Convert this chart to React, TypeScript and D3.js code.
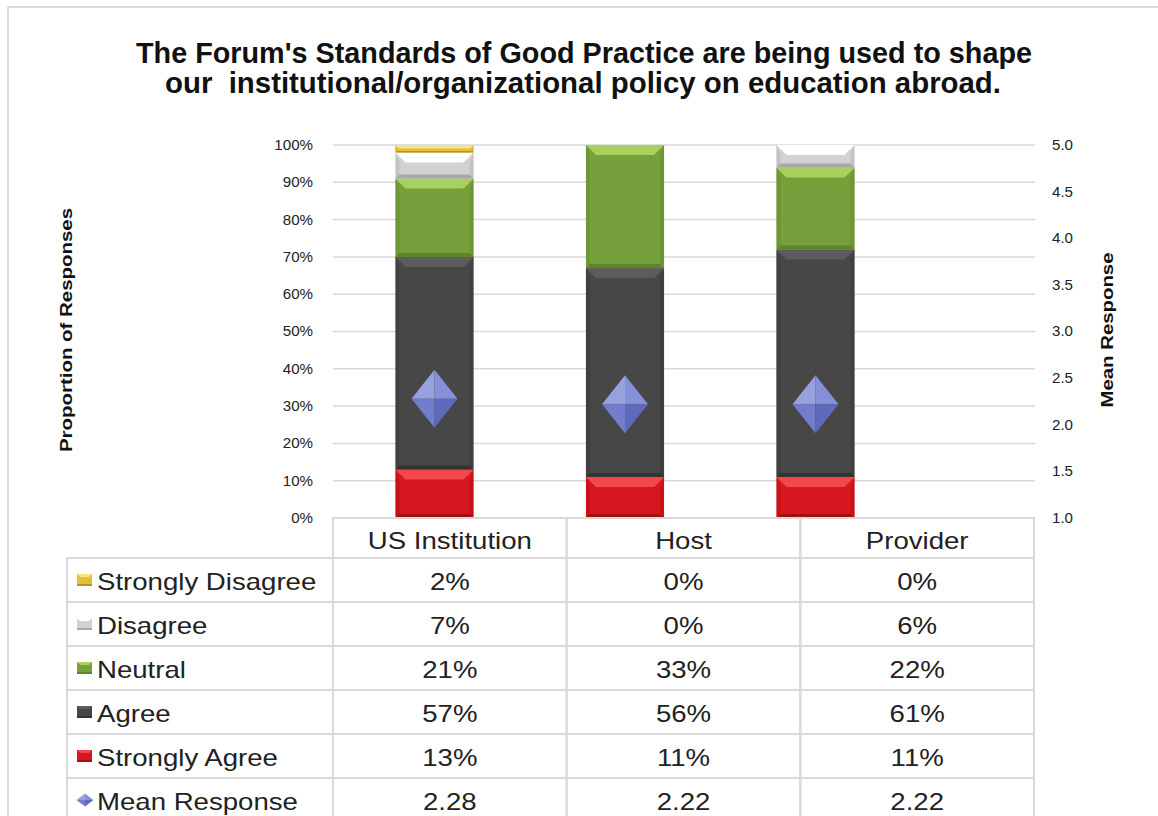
import React from 'react';
import * as d3 from 'd3';

const categories = ['US Institution', 'Host', 'Provider'];
const seriesNames = ['Strongly Agree', 'Agree', 'Neutral', 'Disagree', 'Strongly Disagree'];
const stronglyAgree = [13, 11, 11];
const agree = [57, 56, 61];
const neutral = [21, 33, 22];
const disagree = [7, 0, 6];
const stronglyDisagree = [2, 0, 0];
const meanResponse = [2.28, 2.22, 2.22];
const pctTicks = [0, 10, 20, 30, 40, 50, 60, 70, 80, 90, 100];
const meanTicks = [1.0, 1.5, 2.0, 2.5, 3.0, 3.5, 4.0, 4.5, 5.0];
const tableRows = ['Strongly Disagree', 'Disagree', 'Neutral', 'Agree', 'Strongly Agree', 'Mean Response'];

// base / light (top bevel) / dark (bottom bevel)
const palette: Record<string, [string, string, string]> = {
  'Strongly Agree': ['#d8161f', '#f2474d', '#a30f15'],
  'Agree': ['#474747', '#5c5c5c', '#333333'],
  'Neutral': ['#76a03b', '#a8d05e', '#5e842b'],
  'Disagree': ['#d2d2d2', '#ffffff', '#a8a8a8'],
  'Strongly Disagree': ['#e2c03a', '#f7e38a', '#b4951e'],
};

const FONT = "'Liberation Sans', Arial, sans-serif";
const GRID = '#d9d9d9';

const App: React.FC = () => {
  const width = 1158;
  const height = 816;
  const plotLeft = 333;
  const plotRight = 1035;
  const yTop = 145;
  const yBottom = 518;

  const y = d3.scaleLinear().domain([0, 100]).range([yBottom, yTop]);
  const yMean = d3.scaleLinear().domain([1, 5]).range([yBottom, yTop]);
  const xBar = d3.scaleBand<string>().domain(categories).range([339.25, 910.75])
    .paddingInner(0.59).paddingOuter(0.295);
  const xCol = d3.scaleBand<string>().domain(categories).range([333, 1034]);

  const rowsData = categories.map((c, i) => ({
    cat: c,
    'Strongly Agree': stronglyAgree[i],
    'Agree': agree[i],
    'Neutral': neutral[i],
    'Disagree': disagree[i],
    'Strongly Disagree': stronglyDisagree[i],
  }));
  const stacked = d3.stack<any>().keys(seriesNames)(rowsData);

  const valueFor = (row: string, i: number) => {
    if (row === 'Mean Response') return meanResponse[i].toFixed(2);
    const idx = seriesNames.indexOf(row);
    const arr = [stronglyAgree, agree, neutral, disagree, stronglyDisagree][idx];
    return `${arr[i]}%`;
  };

  const headerTop = 518;
  const headerH = 40;
  const rowH = 44;
  const tableLeft = 67;

  const bevelSeg = (key: string, x: number, y0: number, y1: number, w: number, k: string) => {
    const h = y0 - y1;
    if (h <= 0.1) return null;
    const [base, light, dark] = palette[key];
    const d = Math.min(10, h / 2.2);
    return (
      <g key={k}>
        <rect x={x} y={y1} width={w} height={h} fill={base} />
        <polygon points={`${x},${y1} ${x + w},${y1} ${x + w - d},${y1 + d} ${x + d},${y1 + d}`} fill={light} />
        <polygon points={`${x},${y0} ${x + w},${y0} ${x + w - d * 0.4},${y0 - d * 0.4} ${x + d * 0.4},${y0 - d * 0.4}`} fill={dark} />
        <polygon points={`${x},${y1} ${x + d * 0.4},${y1 + d} ${x + d * 0.4},${y0 - d * 0.4} ${x},${y0}`} fill={dark} opacity={0.35} />
        <polygon points={`${x + w},${y1} ${x + w - d * 0.4},${y1 + d} ${x + w - d * 0.4},${y0 - d * 0.4} ${x + w},${y0}`} fill={dark} opacity={0.35} />
      </g>
    );
  };

  const diamond = (cx: number, cy: number, w: number, h: number, k: string) => (
    <g key={k}>
      <polygon points={`${cx},${cy - h / 2} ${cx - w / 2},${cy} ${cx},${cy}`} fill="#98a1e0" />
      <polygon points={`${cx},${cy - h / 2} ${cx + w / 2},${cy} ${cx},${cy}`} fill="#8690d8" />
      <polygon points={`${cx - w / 2},${cy} ${cx},${cy + h / 2} ${cx},${cy}`} fill="#727dcc" />
      <polygon points={`${cx + w / 2},${cy} ${cx},${cy + h / 2} ${cx},${cy}`} fill="#5f6abb" />
    </g>
  );

  const legendIcon = (row: string, x: number, cy: number) => {
    if (row === 'Mean Response') return diamond(x + 8, cy, 17, 13, 'li');
    const [base, light, dark] = palette[row];
    return (
      <g>
        <rect x={x} y={cy - 6} width={15} height={12} fill={base} />
        <polygon points={`${x},${cy - 6} ${x + 15},${cy - 6} ${x + 12},${cy - 3} ${x + 3},${cy - 3}`} fill={light} />
        <rect x={x} y={cy + 4} width={15} height={2} fill={dark} />
      </g>
    );
  };

  return (
    <svg width={width} height={height} style={{ position: 'absolute', left: 0, top: 0, background: '#fff' }}>
      {/* chart frame */}
      <line x1={8} y1={7} x2={width} y2={7} stroke={GRID} strokeWidth={2} />
      <line x1={8} y1={7} x2={8} y2={height} stroke={GRID} strokeWidth={2} />

      {/* title */}
      <text x={584} y={63} textAnchor="middle" fontFamily={FONT} fontWeight="bold" fontSize={29}
        textLength={896} lengthAdjust="spacingAndGlyphs" fill="#111">
        The Forum's Standards of Good Practice are being used to shape
      </text>
      <text x={583} y={93} textAnchor="middle" fontFamily={FONT} fontWeight="bold" fontSize={29}
        textLength={836} lengthAdjust="spacingAndGlyphs" fill="#111" style={{ whiteSpace: 'pre' }}>
        our  institutional/organizational policy on education abroad.
      </text>

      {/* gridlines */}
      {pctTicks.filter(t => t > 0).map(t => (
        <line key={t} x1={plotLeft} x2={plotRight} y1={y(t)} y2={y(t)} stroke={GRID} strokeWidth={1.5} />
      ))}

      {/* left ticks */}
      {pctTicks.map(t => (
        <text key={t} x={313} y={y(t) + 5} textAnchor="end" fontFamily={FONT} fontSize={14}
          fill="#222" transform={`translate(${313 * (1 - 1.08)},0) scale(1.08,1)`}>{`${t}%`}</text>
      ))}
      {/* right ticks */}
      {meanTicks.map(t => (
        <text key={t} x={1052} y={yMean(t) + 5} fontFamily={FONT} fontSize={14} fill="#222"
          transform={`translate(${1052 * (1 - 1.08)},0) scale(1.08,1)`}>{t.toFixed(1)}</text>
      ))}

      {/* axis titles */}
      <text transform={`translate(72,330) rotate(-90)`} textAnchor="middle" fontFamily={FONT}
        fontWeight="bold" fontSize={16} textLength={244} lengthAdjust="spacingAndGlyphs" fill="#111">
        Proportion of Responses
      </text>
      <text transform={`translate(1113,330) rotate(-90)`} textAnchor="middle" fontFamily={FONT}
        fontWeight="bold" fontSize={16} textLength={155} lengthAdjust="spacingAndGlyphs" fill="#111">
        Mean Response
      </text>

      {/* bars */}
      {stacked.map(s => s.map((d, i) => {
        const x = xBar(categories[i]) as number;
        return bevelSeg(s.key, x, y(d[0]), y(d[1]), xBar.bandwidth(), `${s.key}-${i}`);
      }))}

      {/* mean markers */}
      {meanResponse.map((m, i) => diamond((xBar(categories[i]) as number) + xBar.bandwidth() / 2, yMean(m), 46, 58, `m${i}`))}

      {/* data table */}
      <g fontFamily={FONT} fill="#222">
        {categories.map(c => {
          const x0 = xCol(c) as number;
          const cx = x0 + xCol.bandwidth() / 2;
          return (
            <g key={c}>
              <rect x={x0} y={headerTop} width={xCol.bandwidth()} height={headerH} fill="none" stroke={GRID} strokeWidth={2} />
              <text x={0} y={0} textAnchor="middle" fontSize={23}
                transform={`translate(${cx},${headerTop + 31}) scale(1.2,1)`}>{c}</text>
            </g>
          );
        })}
        {tableRows.map((r, ri) => {
          const top = headerTop + headerH + ri * rowH;
          return (
            <g key={r}>
              <rect x={tableLeft} y={top} width={333 - tableLeft} height={rowH} fill="none" stroke={GRID} strokeWidth={2} />
              {legendIcon(r, 77, top + rowH / 2)}
              <text x={0} y={0} fontSize={23} transform={`translate(97,${top + 32}) scale(1.2,1)`}>{r}</text>
              {categories.map((c, ci) => {
                const x0 = xCol(c) as number;
                return (
                  <g key={c}>
                    <rect x={x0} y={top} width={xCol.bandwidth()} height={rowH} fill="none" stroke={GRID} strokeWidth={2} />
                    <text x={0} y={0} textAnchor="middle" fontSize={23}
                      transform={`translate(${x0 + xCol.bandwidth() / 2},${top + 32}) scale(1.2,1)`}>{valueFor(r, ci)}</text>
                  </g>
                );
              })}
            </g>
          );
        })}
      </g>
    </svg>
  );
};

export default App;
